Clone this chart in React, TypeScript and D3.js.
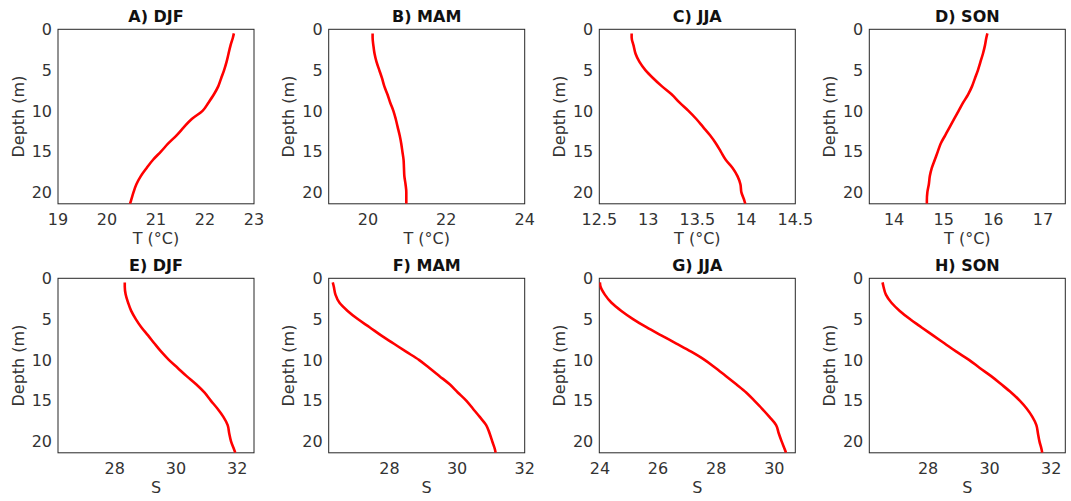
import React from "react";
import * as d3 from "d3";

const depths = [0.5, 1, 2, 3, 4, 5, 6, 7, 8, 9, 10, 11, 12, 13, 14, 15, 16, 17, 18, 19, 20, 21, 21.4];

const tempDJF = [22.59, 22.57, 22.52, 22.48, 22.44, 22.39, 22.33, 22.27, 22.18, 22.07, 21.95, 21.73, 21.57, 21.42, 21.25, 21.1, 20.94, 20.81, 20.69, 20.6, 20.54, 20.49, 20.47];
const tempMAM = [20.12, 20.12, 20.14, 20.17, 20.22, 20.29, 20.36, 20.42, 20.5, 20.57, 20.65, 20.71, 20.76, 20.81, 20.85, 20.88, 20.91, 20.92, 20.93, 20.96, 20.98, 20.98, 20.98];
const tempJJA = [12.83, 12.83, 12.85, 12.87, 12.91, 12.97, 13.05, 13.14, 13.24, 13.32, 13.41, 13.49, 13.56, 13.63, 13.69, 13.74, 13.79, 13.86, 13.91, 13.94, 13.95, 13.98, 13.99];
const tempSON = [15.88, 15.86, 15.83, 15.79, 15.74, 15.69, 15.63, 15.57, 15.49, 15.39, 15.3, 15.21, 15.12, 15.03, 14.94, 14.88, 14.82, 14.76, 14.72, 14.7, 14.67, 14.66, 14.66];

const salDJF = [28.33, 28.33, 28.36, 28.44, 28.54, 28.69, 28.87, 29.09, 29.3, 29.52, 29.77, 30.06, 30.35, 30.66, 30.93, 31.14, 31.36, 31.55, 31.69, 31.74, 31.8, 31.9, 31.94];
const salMAM = [26.32, 26.35, 26.4, 26.52, 26.76, 27.06, 27.41, 27.75, 28.12, 28.49, 28.87, 29.18, 29.48, 29.78, 30.02, 30.27, 30.47, 30.67, 30.86, 30.96, 31.04, 31.12, 31.14];
const salJJA = [24.0, 24.02, 24.17, 24.4, 24.74, 25.14, 25.6, 26.11, 26.63, 27.14, 27.6, 27.98, 28.34, 28.69, 29.03, 29.31, 29.58, 29.83, 30.06, 30.15, 30.25, 30.36, 30.4];
const salSON = [26.52, 26.55, 26.63, 26.81, 27.08, 27.41, 27.78, 28.16, 28.54, 28.92, 29.33, 29.68, 30.05, 30.38, 30.7, 30.98, 31.21, 31.39, 31.52, 31.57, 31.62, 31.69, 31.71];

const titles = ["A) DJF", "B) MAM", "C) JJA", "D) SON", "E) DJF", "F) MAM", "G) JJA", "H) SON"];
const xLabels = ["T (°C)", "T (°C)", "T (°C)", "T (°C)", "S", "S", "S", "S"];
const xDomains = [[19, 23], [19, 24], [12.5, 14.5], [13.5, 17.45], [26.15, 32.55], [26.2, 32], [23.98, 30.72], [26.09, 32.46]];
const xTicks = [[19, 20, 21, 22, 23], [20, 22, 24], [12.5, 13, 13.5, 14, 14.5], [14, 15, 16, 17], [28, 30, 32], [28, 30, 32], [24, 26, 28, 30], [28, 30, 32]];
const yTicks = [0, 5, 10, 15, 20];
const yDomain = [0, 21.4];
const series = [tempDJF, tempMAM, tempJJA, tempSON, salDJF, salMAM, salJJA, salSON];

const lefts = [58, 328.7, 599.3, 869.3];
const tops = [29.3, 278.3];
const W = 196;
const H = 174.5;
const FONT = "'DejaVu Sans', sans-serif";
const GRAY = "#333333";

function Panel({ i }: { i: number }) {
  const col = i % 4;
  const row = Math.floor(i / 4);
  const x0 = lefts[col];
  const y0 = tops[row];
  const x = d3.scaleLinear().domain(xDomains[i]).range([0, W]);
  const y = d3.scaleLinear().domain(yDomain).range([0, H]);
  const pts = depths.map((d, k) => [series[i][k], d] as [number, number]);
  const line = d3
    .line<[number, number]>()
    .x((p) => x(p[0]))
    .y((p) => y(p[1]))
    .curve(d3.curveMonotoneY);
  const clipId = `clip${i}`;
  return (
    <g transform={`translate(${x0},${y0})`}>
      <defs>
        <clipPath id={clipId}>
          <rect x={0} y={0} width={W} height={H} />
        </clipPath>
      </defs>
      <rect x={0} y={0} width={W} height={H} fill="white" stroke="#262626" strokeWidth={1} />
      <path d={line(pts) || ""} fill="none" stroke="#ff0000" strokeWidth={2.6} clipPath={`url(#${clipId})`} />
      {yTicks.map((t) => (
        <text key={`y${t}`} x={-6} y={y(t)} dy="0.36em" textAnchor="end" fontSize={16} fill={GRAY} fontFamily={FONT}>
          {t}
        </text>
      ))}
      {xTicks[i].map((t) => (
        <text key={`x${t}`} x={x(t)} y={H + 21.5} textAnchor="middle" fontSize={16} fill={GRAY} fontFamily={FONT}>
          {String(t)}
        </text>
      ))}
      <text x={W / 2} y={H + 40} textAnchor="middle" fontSize={16} fill={GRAY} fontFamily={FONT}>
        {xLabels[i]}
      </text>
      <text
        transform={`translate(${-40},${H / 2}) rotate(-90)`}
        textAnchor="middle"
        dy="0.36em"
        fontSize={16}
        fill={GRAY}
        fontFamily={FONT}
      >
        Depth (m)
      </text>
      <text x={W / 2} y={-7.5} textAnchor="middle" fontSize={16} fontWeight="bold" fill="#111" fontFamily={FONT}>
        {titles[i]}
      </text>
    </g>
  );
}

export default function App() {
  return (
    <svg
      width={1071}
      height={501}
      style={{ position: "absolute", left: 0, top: 0, background: "white" }}
    >
      <rect width={1071} height={501} fill="white" />
      {titles.map((_, i) => (
        <Panel key={i} i={i} />
      ))}
    </svg>
  );
}
